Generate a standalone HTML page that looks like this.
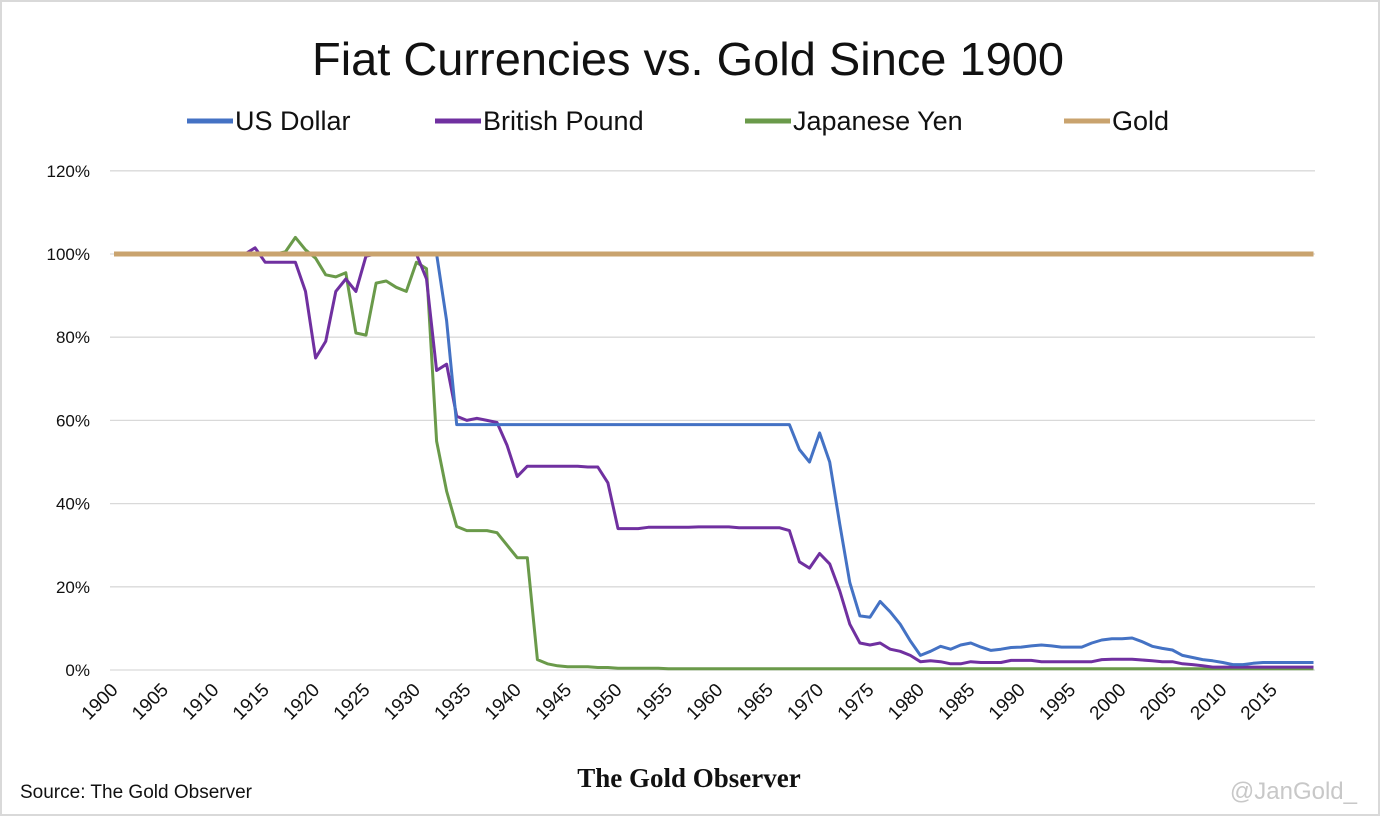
<!DOCTYPE html>
<html><head><meta charset="utf-8"><style>
html,body{margin:0;padding:0;background:#fff}
#c{position:relative;width:1380px;height:816px;box-sizing:border-box;border:2px solid #d9d9d9;overflow:hidden}
svg{position:absolute;left:0;top:0}
</style></head><body><div id="c"><svg id="s" width="1380" height="816" xmlns="http://www.w3.org/2000/svg" font-family="Liberation Sans, sans-serif"></svg></div>
<script>
const X=y=>112+(y-1900)*10.08, Y=v=>668-v*4.16;
let h='';
h+='<text x="686" y="73" text-anchor="middle" font-size="46" fill="#111" textLength="752" lengthAdjust="spacingAndGlyphs">Fiat Currencies vs. Gold Since 1900</text>';
const leg=[[185,'#4472c4','US Dollar'],[433,'#7030a0','British Pound'],[743,'#6a9a4a','Japanese Yen'],[1062,'#c9a36e','Gold']];
for(const [x,c,t] of leg){h+=`<line x1="${x}" y1="119" x2="${x+46}" y2="119" stroke="${c}" stroke-width="5"/><text x="${x+48}" y="128" font-size="27" fill="#111">${t}</text>`;}
for(let i=0;i<=6;i++){const y=Y(i*20);h+=`<line x1="108" y1="${y}" x2="1313" y2="${y}" stroke="#d9d9d9" stroke-width="1.3"/><text x="88" y="${y+6}" text-anchor="end" font-size="17" fill="#111">${i*20}%</text>`;}
for(let yr=1900;yr<=2015;yr+=5){const x=X(yr)+5;h+=`<text transform="translate(${x},689) rotate(-45)" text-anchor="end" font-size="19" fill="#111">${yr}</text>`;}
function series(m,c){let pts=[];for(let y=1900;y<=2019;y++){pts.push(X(y).toFixed(1)+','+Y(m(y)).toFixed(1));}h+=`<polyline points="${pts.join(' ')}" fill="none" stroke="${c}" stroke-width="3" stroke-linejoin="round"/>`;}
function fromTable(t,def){return y=>{if(t[y]!==undefined)return t[y];let k=Object.keys(t).map(Number).filter(a=>a<y);return k.length?t[Math.max(...k)]:def;};}
const usd=fromTable({1900:100,1933:84,1934:59,1967:59,1968:53,1969:50,1970:57,1971:50,1972:35,1973:21,1974:13,1975:12.7,1976:16.5,1977:14,1978:11,1979:7,1980:3.5,1981:4.5,1982:5.7,1983:5,1984:6,1985:6.5,1986:5.5,1987:4.7,1988:5,1989:5.4,1990:5.5,1991:5.8,1992:6,1993:5.8,1994:5.5,1995:5.5,1996:5.5,1997:6.5,1998:7.2,1999:7.5,2000:7.5,2001:7.7,2002:6.8,2003:5.7,2004:5.2,2005:4.8,2006:3.5,2007:3,2008:2.5,2009:2.2,2010:1.8,2011:1.3,2012:1.3,2013:1.6,2014:1.8},100);
const gbp=fromTable({1900:100,1914:101.5,1915:98,1918:98,1919:91,1920:75,1921:79,1922:91,1923:94,1924:91,1925:99.5,1926:100,1931:94,1932:72,1933:73.5,1934:61,1935:60,1936:60.5,1937:60,1938:59.5,1939:54,1940:46.5,1941:49,1947:48.8,1949:45,1950:34,1953:34.3,1958:34.4,1962:34.2,1967:33.5,1968:26,1969:24.5,1970:28,1971:25.5,1972:19,1973:11,1974:6.5,1975:6,1976:6.5,1977:5,1978:4.5,1979:3.5,1980:2,1981:2.2,1982:2,1983:1.5,1985:2,1986:1.8,1989:2.3,1990:2.3,1992:2,1998:2.5,1999:2.6,2002:2.4,2003:2.2,2004:2,2006:1.5,2007:1.3,2008:1,2009:0.7},100);
const jpy=fromTable({1900:100,1917:100.5,1918:104,1919:101,1920:99,1921:95,1922:94.5,1923:95.5,1924:81,1925:80.5,1926:93,1927:93.5,1928:92,1929:91,1930:98,1931:96.5,1932:55,1933:43,1934:34.5,1935:33.5,1938:33,1939:30,1940:27,1941:27,1942:2.5,1943:1.5,1944:1,1945:0.8,1948:0.6,1950:0.4,1955:0.3},100);
series(jpy,'#6a9a4a');series(gbp,'#7030a0');series(usd,'#4472c4');
h+=`<line x1="${X(1900)}" y1="${Y(100)}" x2="${X(2019)}" y2="${Y(100)}" stroke="#c9a36e" stroke-width="5"/>`;
h+='<text x="18" y="796" font-size="19" fill="#111">Source: The Gold Observer</text>';
h+='<text x="687" y="785" text-anchor="middle" font-family="Liberation Serif, serif" font-weight="bold" font-size="27" fill="#111">The Gold Observer</text>';
h+='<text x="1355" y="797" text-anchor="end" font-size="24" fill="#c8c8c8">@JanGold_</text>';
document.getElementById('s').innerHTML=h;
</script></body></html>
